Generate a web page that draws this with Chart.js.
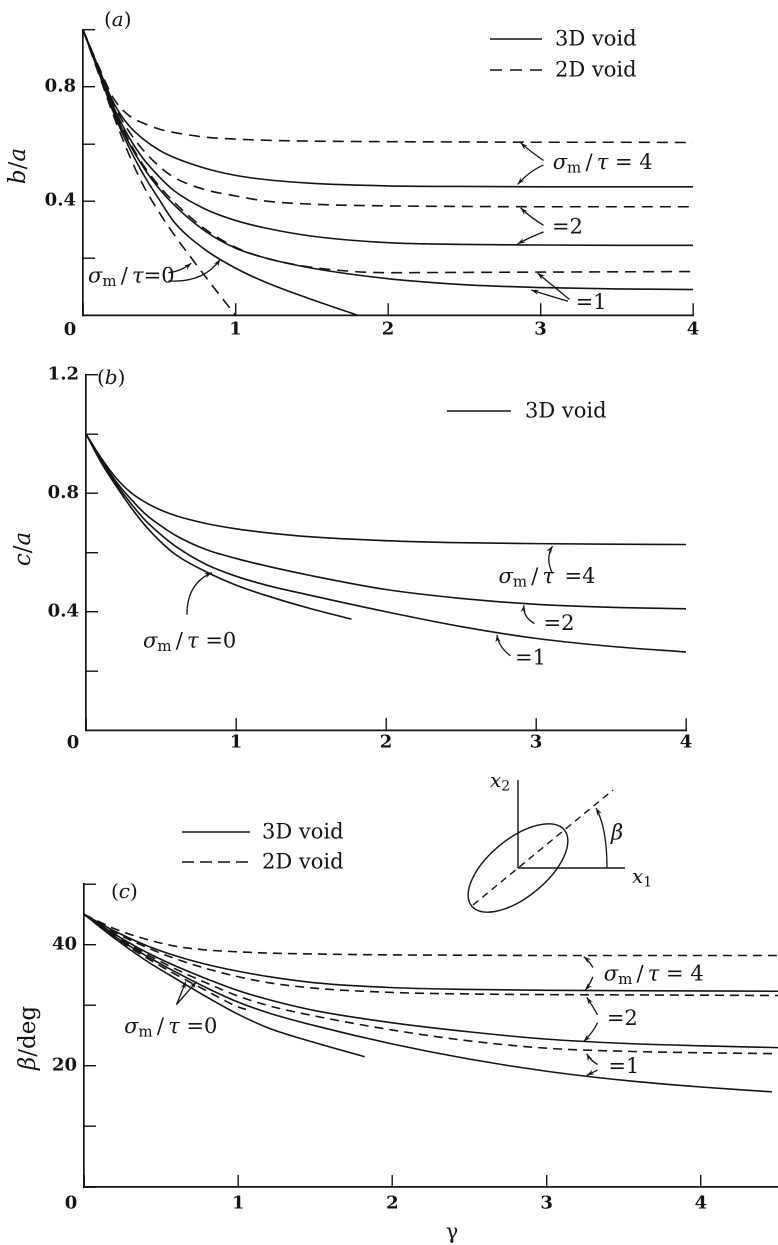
<!DOCTYPE html>
<html><head><meta charset="utf-8">
<script src="https://cdn.jsdelivr.net/npm/chart.js@4.4.0/dist/chart.umd.min.js"></script>
<style>
html,body{margin:0;padding:0;background:#fff;}
body{width:778px;height:1245px;position:relative;overflow:hidden;}
canvas{position:absolute;left:0;}
</style></head><body>
<canvas id="ca" width="778" height="345" style="top:0px;width:778px;height:345px"></canvas>
<canvas id="cb" width="778" height="415" style="top:345px;width:778px;height:415px"></canvas>
<canvas id="cc" width="778" height="485" style="top:760px;width:778px;height:485px"></canvas>
<script>
// ---------------- data: panel (a) b/a vs gamma ----------------
const gA = [0, 0.1, 0.2, 0.3, 0.4, 0.5, 0.6, 0.8, 1.0, 1.2, 1.5, 2.0, 2.5, 3.0, 3.5, 4.0];
const a3D_s4 = [1, 0.87, 0.745, 0.665, 0.615, 0.578, 0.552, 0.515, 0.49, 0.475, 0.462, 0.453, 0.451, 0.45, 0.45, 0.45];
const a2D_s4 = [1, 0.875, 0.76, 0.70, 0.672, 0.652, 0.64, 0.624, 0.617, 0.613, 0.61, 0.608, 0.607, 0.606, 0.606, 0.605];
const a3D_s2 = [1, 0.865, 0.73, 0.625, 0.545, 0.485, 0.435, 0.372, 0.332, 0.305, 0.277, 0.254, 0.248, 0.246, 0.245, 0.245];
const a2D_s2 = [1, 0.868, 0.74, 0.645, 0.575, 0.522, 0.482, 0.44, 0.418, 0.40, 0.389, 0.383, 0.381, 0.38, 0.38, 0.38];
const a3D_s1 = [1, 0.86, 0.72, 0.605, 0.515, 0.443, 0.385, 0.295, 0.235, 0.2, 0.165, 0.128, 0.107, 0.097, 0.092, 0.09];
const a2D_s1 = [1, 0.862, 0.725, 0.612, 0.522, 0.452, 0.395, 0.302, 0.238, 0.2, 0.168, 0.149, 0.15, 0.151, 0.152, 0.153];
const gA_3D_s0 = [0, 0.1, 0.2, 0.3, 0.4, 0.5, 0.6, 0.8, 1.0, 1.2, 1.5, 1.8];
const a3D_s0 = [1, 0.855, 0.71, 0.59, 0.49, 0.405, 0.325, 0.23, 0.165, 0.115, 0.055, 0];
const gA_2D_s0 = [0, 0.1, 0.2, 0.3, 0.4, 0.5, 0.6, 0.7, 0.8, 0.9, 1.0];
const a2D_s0 = [1, 0.85, 0.70, 0.565, 0.45, 0.36, 0.28, 0.208, 0.137, 0.068, 0];

// ---------------- data: panel (b) c/a vs gamma ----------------
const gB = [0, 0.1, 0.2, 0.3, 0.4, 0.5, 0.6, 0.8, 1.0, 1.2, 1.5, 2.0, 2.5, 3.0, 3.5, 4.0];
const b_s4 = [1, 0.92, 0.852, 0.802, 0.768, 0.743, 0.724, 0.698, 0.68, 0.667, 0.653, 0.64, 0.633, 0.63, 0.628, 0.627];
const b_s2 = [1, 0.915, 0.84, 0.78, 0.728, 0.69, 0.657, 0.61, 0.58, 0.555, 0.522, 0.475, 0.445, 0.425, 0.415, 0.41];
const b_s1 = [1, 0.91, 0.833, 0.765, 0.706, 0.66, 0.62, 0.56, 0.52, 0.49, 0.455, 0.40, 0.35, 0.31, 0.283, 0.264];
const gB_s0 = [0, 0.1, 0.2, 0.3, 0.4, 0.5, 0.6, 0.8, 1.0, 1.2, 1.5, 1.77];
const b_s0 = [1, 0.905, 0.825, 0.752, 0.688, 0.635, 0.592, 0.535, 0.49, 0.455, 0.41, 0.375];

// ---------------- data: panel (c) beta (deg) vs gamma ----------------
const gC = [0, 0.2, 0.4, 0.6, 0.8, 1.0, 1.2, 1.5, 2.0, 2.5, 3.0, 3.5, 4.0, 4.5];
const c2D_s4 = [45, 42.6, 40.9, 39.7, 39.1, 38.8, 38.6, 38.45, 38.3, 38.25, 38.2, 38.2, 38.2, 38.2];
const c3D_s4 = [45, 42.2, 39.9, 38.1, 36.7, 35.6, 34.7, 33.7, 32.9, 32.6, 32.45, 32.4, 32.35, 32.3];
const c2D_s2 = [45, 42.0, 39.6, 37.6, 36.0, 34.7, 33.7, 32.8, 32.1, 31.85, 31.75, 31.7, 31.65, 31.6];
const c3D_s2 = [45, 41.7, 38.8, 36.4, 34.3, 32.4, 30.9, 29.1, 27.1, 25.6, 24.4, 23.7, 23.3, 23.0];
const c2D_s1 = [45, 41.5, 38.5, 35.9, 33.6, 31.5, 29.9, 28.2, 25.9, 24.1, 22.9, 22.4, 22.15, 22.0];
const gC_3D_s1 = [0, 0.2, 0.4, 0.6, 0.8, 1.0, 1.2, 1.5, 2.0, 2.5, 3.0, 3.5, 4.0, 4.46];
const c3D_s1 = [45, 41.3, 38.2, 35.4, 32.8, 30.5, 28.7, 26.6, 23.6, 21.1, 19.1, 17.6, 16.5, 15.7];
const gC_3D_s0 = [0, 0.2, 0.4, 0.6, 0.8, 1.0, 1.2, 1.5, 1.82];
const c3D_s0 = [45, 41.0, 37.4, 34.3, 31.3, 28.5, 26.2, 23.8, 21.5];
const gC_2D_s0 = [0, 0.2, 0.4, 0.6, 0.8, 1.0, 1.05];
const c2D_s0 = [45, 41.2, 37.9, 35.0, 32.3, 29.7, 29.3];

// ---------------- tick labels ----------------
const xTickLabels = ['1', '2', '3', '4'];
const yLabA = [0.4, 0.8];
const yLabB = [0.4, 0.8, 1.2];
const yLabC = [20, 40];

// ---------------- style ----------------
const INK = '#141414';
const SERIF = 'DejaVu Serif';
const F = (sz, st = '', wt = '') => `${st} ${wt} ${sz}px "${SERIF}"`.trim();

function pts(xs, ys) { return xs.map((x, i) => ({ x: x, y: ys[i] })); }
function line(xs, ys, dash) {
  return {
    data: pts(xs, ys), showLine: true, borderColor: INK, borderWidth: 1.6,
    borderDash: dash || [], pointRadius: 0, pointHoverRadius: 0,
    cubicInterpolationMode: 'monotone', fill: false, clip: 4
  };
}

function scalesFor(o) {
  return {
    x: {
      type: 'linear', min: 0, max: o.xmax, position: 'bottom',
      afterFit(s) { s.height = o.xh; },
      border: { display: true, color: INK, width: 1.7 },
      grid: { drawOnChartArea: false, drawTicks: true, tickLength: -12, color: INK, lineWidth: 1.4 },
      ticks: {
        stepSize: 1, includeBounds: false, padding: o.xpad, color: INK, autoSkip: false, maxRotation: 0,
        font: { family: SERIF, size: 18, weight: 'bold', lineHeight: 1.2 },
        callback: (v) => (v >= 1 && Math.abs(v - Math.round(v)) < 1e-6) ? xTickLabels[Math.round(v) - 1] : ''
      }
    },
    y: {
      type: 'linear', min: 0, max: o.ymax, position: 'left',
      afterFit(s) { s.width = o.yw; },
      border: { display: true, color: INK, width: 1.7 },
      grid: { drawOnChartArea: false, drawTicks: true, tickLength: -12, color: INK, lineWidth: 1.4 },
      title: { display: false },
      ticks: {
        stepSize: o.ystep, includeBounds: true, padding: 19, color: INK, autoSkip: false,
        font: { family: SERIF, size: 18, weight: 'bold', lineHeight: 1.2 },
        callback: (v) => {
          for (const L of o.ylab) if (Math.abs(v - L) < 1e-6) return o.yfmt(L);
          return '';
        }
      }
    }
  };
}

// ---------------- drawing helpers ----------------
function richWidth(ctx, parts) {
  let w = 0; for (const p of parts) { ctx.font = p[1]; w += ctx.measureText(p[0]).width; } return w;
}
function rich(ctx, x, y, parts) {
  ctx.textAlign = 'left'; ctx.textBaseline = 'middle';
  for (const p of parts) { ctx.font = p[1]; ctx.fillText(p[0], x, y + (p[2] || 0)); x += ctx.measureText(p[0]).width; }
  return x;
}
function vtitle(ctx, x, yc, parts) {
  ctx.save(); ctx.translate(x, yc); ctx.rotate(-Math.PI / 2);
  const w = richWidth(ctx, parts); rich(ctx, -w / 2, 0, parts); ctx.restore();
}
function sigmaTau(ctx, x, y, tail) {
  return rich(ctx, x, y, [['σ', F(21, 'italic')], ['m', F(15), 5], ['\u2009/\u2009', F(21)], ['τ', F(21, 'italic')], [tail, F(21)]]);
}
function arrow(ctx, p0, pc, p1) {
  ctx.beginPath(); ctx.moveTo(p0[0], p0[1]); ctx.quadraticCurveTo(pc[0], pc[1], p1[0], p1[1]); ctx.stroke();
  const a = Math.atan2(p1[1] - pc[1], p1[0] - pc[0]), h = 8;
  ctx.beginPath(); ctx.moveTo(p1[0], p1[1]);
  ctx.lineTo(p1[0] - h * Math.cos(a - 0.33), p1[1] - h * Math.sin(a - 0.33));
  ctx.lineTo(p1[0] - h * 0.6 * Math.cos(a), p1[1] - h * 0.6 * Math.sin(a));
  ctx.lineTo(p1[0] - h * Math.cos(a + 0.33), p1[1] - h * Math.sin(a + 0.33));
  ctx.closePath(); ctx.fill();
}
function seg(ctx, x0, y0, x1, y1, dash) {
  ctx.save(); ctx.setLineDash(dash || []); ctx.beginPath(); ctx.moveTo(x0, y0); ctx.lineTo(x1, y1); ctx.stroke(); ctx.restore();
}
function panelLabel(ctx, x, y, letter) {
  rich(ctx, x, y, [['(', F(20)], [letter, F(20, 'italic')], [')', F(20)]]);
}
function originZero(chart, off) {
  const ctx = chart.ctx, xs = chart.scales.x;
  ctx.font = F(18, '', 'bold'); ctx.textAlign = 'center'; ctx.textBaseline = 'middle';
  ctx.fillText('0', xs.left - 13, xs.top + off);
}

const DECOS = {
  ca(chart) {
    const ctx = chart.ctx, X = chart.scales.x, Y = chart.scales.y;
    const P = (g, v) => [X.getPixelForValue(g), Y.getPixelForValue(v)];
    originZero(chart, 15);
    panelLabel(ctx, 104, 21, 'a');
    vtitle(ctx, 19, 166, [['b', F(23, 'italic')], ['/', F(23)], ['a', F(23, 'italic')]]);
    // legend
    ctx.lineWidth = 1.5;
    seg(ctx, 490, 39, 542, 39); seg(ctx, 490, 70, 542, 70, [12, 8]);
    ctx.font = F(21); ctx.textAlign = 'left'; ctx.textBaseline = 'middle';
    ctx.fillText('3D void', 555, 40); ctx.fillText('2D void', 555, 71);
    // annotations
    ctx.lineWidth = 1.3;
    let p = P(3.08, 0.532); sigmaTau(ctx, p[0], p[1], ' = 4');
    arrow(ctx, P(3.02, 0.542), P(2.93, 0.575), P(2.87, 0.604));
    arrow(ctx, P(3.02, 0.526), P(2.93, 0.506), P(2.85, 0.458));
    p = P(3.075, 0.305); rich(ctx, p[0], p[1], [['=2', F(21)]]);
    arrow(ctx, P(3.02, 0.315), P(2.93, 0.344), P(2.87, 0.376));
    arrow(ctx, P(3.02, 0.292), P(2.93, 0.273), P(2.85, 0.25));
    p = P(3.23, 0.04); rich(ctx, p[0], p[1], [['=1', F(21)]]);
    arrow(ctx, P(3.19, 0.055), P(3.08, 0.104), P(2.98, 0.148));
    arrow(ctx, P(3.18, 0.049), P(3.06, 0.068), P(2.94, 0.088));
    p = P(0.033, 0.133); sigmaTau(ctx, p[0], p[1], '=0');
    arrow(ctx, P(0.56, 0.149), P(0.64, 0.153), P(0.71, 0.182));
    arrow(ctx, P(0.56, 0.12), P(0.79, 0.112), P(0.9, 0.196));
  },
  cb(chart) {
    const ctx = chart.ctx, X = chart.scales.x, Y = chart.scales.y;
    const P = (g, v) => [X.getPixelForValue(g), Y.getPixelForValue(v)];
    originZero(chart, 13);
    panelLabel(ctx, 97, 34, 'b');
    vtitle(ctx, 24, 204, [['c', F(23, 'italic')], ['/', F(23)], ['a', F(23, 'italic')]]);
    ctx.lineWidth = 1.5;
    seg(ctx, 447, 66, 511, 66);
    ctx.font = F(21); ctx.textAlign = 'left'; ctx.textBaseline = 'middle';
    ctx.fillText('3D void', 525, 67);
    ctx.lineWidth = 1.3;
    let p = P(2.75, 0.516); sigmaTau(ctx, p[0], p[1], '');
    p = P(3.19, 0.516); rich(ctx, p[0], p[1], [['=4', F(21)]]);
    arrow(ctx, P(3.11, 0.529), P(3.06, 0.58), P(3.11, 0.622));
    p = P(3.05, 0.357); rich(ctx, p[0], p[1], [['=2', F(21)]]);
    arrow(ctx, P(2.99, 0.36), P(2.91, 0.383), P(2.92, 0.422));
    p = P(2.86, 0.241); rich(ctx, p[0], p[1], [['=1', F(21)]]);
    arrow(ctx, P(2.83, 0.251), P(2.75, 0.281), P(2.74, 0.322));
    p = P(0.38, 0.298); sigmaTau(ctx, p[0], p[1], ' =0');
    arrow(ctx, P(0.673, 0.39), P(0.673, 0.496), P(0.84, 0.532));
  },
  cc(chart) {
    const ctx = chart.ctx, X = chart.scales.x, Y = chart.scales.y;
    const P = (g, v) => [X.getPixelForValue(g), Y.getPixelForValue(v)];
    originZero(chart, 17);
    panelLabel(ctx, 111, 133, 'c');
    vtitle(ctx, 29, 278, [['β', F(23, 'italic')], ['/deg', F(23)]]);
    // legend
    ctx.lineWidth = 1.5;
    seg(ctx, 182, 72, 250, 72); seg(ctx, 182, 102, 250, 102, [12, 6]);
    ctx.font = F(21); ctx.textAlign = 'left'; ctx.textBaseline = 'middle';
    ctx.fillText('3D void', 262, 73); ctx.fillText('2D void', 262, 103);
    // x-axis title
    ctx.font = F(21); ctx.textAlign = 'center'; ctx.fillText('γ', 452, 473);
    // inset diagram
    ctx.lineWidth = 1.4;
    seg(ctx, 518, 108, 518, 20); seg(ctx, 518, 108, 625, 108);
    seg(ctx, 473, 145, 613, 30, [7, 5]);
    ctx.beginPath(); ctx.ellipse(518, 108, 60, 29, -0.688, 0, Math.PI * 2); ctx.stroke();
    ctx.lineWidth = 1.3;
    arrow(ctx, [607, 108], [607, 68], [596, 48]);
    rich(ctx, 490, 22, [['x', F(20, 'italic')], ['2', F(14), 5]]);
    rich(ctx, 632, 118, [['x', F(20, 'italic')], ['1', F(14), 5]]);
    rich(ctx, 611, 74, [['β', F(21, 'italic')]]);
    // annotations
    let p = P(3.37, 35.0); sigmaTau(ctx, p[0], p[1], ' = 4');
    arrow(ctx, P(3.30, 36.2), P(3.28, 37.2), P(3.24, 38.0));
    arrow(ctx, P(3.30, 34.7), P(3.28, 33.4), P(3.25, 32.5));
    p = P(3.39, 27.6); rich(ctx, p[0], p[1], [['=2', F(21)]]);
    arrow(ctx, P(3.33, 28.4), P(3.30, 29.8), P(3.26, 31.3));
    arrow(ctx, P(3.33, 27.1), P(3.30, 25.5), P(3.24, 24.0));
    p = P(3.40, 19.7); rich(ctx, p[0], p[1], [['=1', F(21)]]);
    arrow(ctx, P(3.33, 20.2), P(3.28, 21.0), P(3.26, 22.0));
    arrow(ctx, P(3.33, 19.3), P(3.29, 18.8), P(3.26, 18.4));
    p = P(0.26, 26.3); sigmaTau(ctx, p[0], p[1], ' =0');
    const s = P(0.60, 30.1), t1 = P(0.66, 33.9), t2 = P(0.73, 33.9);
    arrow(ctx, s, [(s[0] + t1[0]) / 2, (s[1] + t1[1]) / 2], t1);
    arrow(ctx, s, [(s[0] + t2[0]) / 2, (s[1] + t2[1]) / 2], t2);
  }
};

const decoPlugin = {
  id: 'deco',
  afterDraw(chart) {
    const ctx = chart.ctx; ctx.save();
    ctx.fillStyle = INK; ctx.strokeStyle = INK; ctx.lineWidth = 1.3;
    DECOS[chart.canvas.id](chart);
    ctx.restore();
  }
};

function makeChart(id, datasets, layout, sc) {
  return new Chart(document.getElementById(id), {
    type: 'scatter',
    data: { datasets: datasets },
    options: {
      responsive: false, animation: false, devicePixelRatio: 2,
      layout: { padding: layout },
      plugins: { legend: { display: false }, tooltip: { enabled: false }, title: { display: false } },
      scales: scalesFor(sc)
    },
    plugins: [decoPlugin]
  });
}

const DA = [11, 7], DC = [9, 6];
makeChart('ca', [
  line(gA, a3D_s4), line(gA, a2D_s4, DA),
  line(gA, a3D_s2), line(gA, a2D_s2, DA),
  line(gA, a3D_s1), line(gA, a2D_s1, DA),
  line(gA_3D_s0, a3D_s0), line(gA_2D_s0, a2D_s0, DA)
], { top: 12, right: 85, left: 0, bottom: 0 },
  { xmax: 4, ymax: 1.0, ystep: 0.2, ylab: yLabA, yfmt: v => v.toFixed(1), xh: 26, yw: 83, xpad: 16 });

makeChart('cb', [
  line(gB, b_s4), line(gB, b_s2), line(gB, b_s1), line(gB_s0, b_s0)
], { top: 26, right: 92, left: 0, bottom: 0 },
  { xmax: 4, ymax: 1.2, ystep: 0.2, ylab: yLabB, yfmt: v => v.toFixed(1), xh: 27, yw: 86, xpad: 14 });

makeChart('cc', [
  line(gC, c2D_s4, DC), line(gC, c3D_s4),
  line(gC, c2D_s2, DC), line(gC, c3D_s2),
  line(gC, c2D_s1, DC), line(gC_3D_s1, c3D_s1),
  line(gC_3D_s0, c3D_s0), line(gC_2D_s0, c2D_s0, DC)
], { top: 124, right: 0, left: 0, bottom: 0 },
  { xmax: 4.5, ymax: 50, ystep: 10, ylab: yLabC, yfmt: v => String(v), xh: 58, yw: 84, xpad: 18 });
</script>
</body></html>
